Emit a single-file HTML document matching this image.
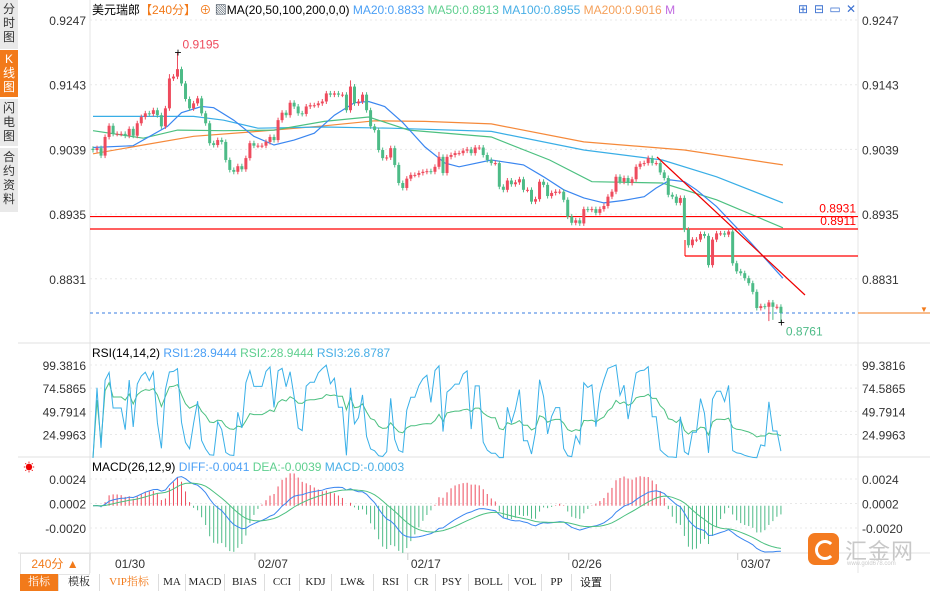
<!DOCTYPE html>
<html><head><meta charset="utf-8">
<style>
body{margin:0;width:930px;height:591px;overflow:hidden;background:#fff;font-family:"Liberation Sans","Noto Sans CJK SC",sans-serif;}
#wrap{position:relative;width:930px;height:591px;}
.side{position:absolute;left:0;width:18px;background:#e9e9e9;color:#333;font-size:12px;line-height:14px;text-align:center;border-bottom:1px solid #fff;}
.tb{position:absolute;top:574px;height:17px;font-size:11px;line-height:17px;text-align:center;border-right:1px solid #ddd;color:#222;font-family:"Liberation Serif","Noto Serif CJK SC",serif;}
</style></head><body><div id="wrap">
<div class="side" style="top:0;height:47px;padding-top:2px">分<br>时<br>图</div>
<div class="side" style="top:50px;height:45px;padding-top:2px;background:#f27a1a;color:#fff">K<br>线<br>图</div>
<div class="side" style="top:99px;height:45px;padding-top:2px">闪<br>电<br>图</div>
<div class="side" style="top:148px;height:62px;padding-top:2px">合<br>约<br>资<br>料</div>
<svg id="svg" width="930" height="591" style="position:absolute;left:0;top:0"></svg>
<div style="position:absolute;left:20px;top:553px;width:68px;height:20px;border:1px solid #e4e4e4;color:#f27a1a;font-size:12px;line-height:20px;text-align:center">240分 ▲</div>
<div class="tb" style="left:20px;width:38px;background:#f27a1a;color:#fff">指标</div>
<div class="tb" style="left:59px;width:40px">模板</div>
<div class="tb" style="left:100px;width:58px;color:#f27a1a">VIP指标</div>
<div class="tb" style="left:159px;width:26px">MA</div>
<div class="tb" style="left:186px;width:38px">MACD</div>
<div class="tb" style="left:225px;width:39px">BIAS</div>
<div class="tb" style="left:265px;width:34px">CCI</div>
<div class="tb" style="left:300px;width:31px">KDJ</div>
<div class="tb" style="left:332px;width:41px">LW&amp;</div>
<div class="tb" style="left:374px;width:33px">RSI</div>
<div class="tb" style="left:408px;width:27px">CR</div>
<div class="tb" style="left:436px;width:32px">PSY</div>
<div class="tb" style="left:469px;width:39px">BOLL</div>
<div class="tb" style="left:509px;width:32px">VOL</div>
<div class="tb" style="left:542px;width:29px">PP</div>
<div class="tb" style="left:572px;width:38px;font-family:'Noto Sans CJK SC',sans-serif">设置</div>
<div style="position:absolute;left:808px;top:533px;width:31px;height:32px;border-radius:7px;background:#f47b20"><div style="position:absolute;left:7px;top:7px;width:14px;height:14px;border:3px solid #fff;border-radius:50%;border-right-color:transparent"></div></div>
<div style="position:absolute;left:845px;top:534px;font-size:22px;color:#c8c8c8;letter-spacing:1px">汇金网</div>
<div style="position:absolute;left:847px;top:561px;font-size:6px;color:#ccc">www.gold678.com</div>
</div>
<script>
const closes=[0.9038,0.9041,0.9029,0.9059,0.9077,0.9064,0.9064,0.9064,0.9061,0.9072,0.9061,0.9081,0.9091,0.9097,0.9096,0.9102,0.9094,0.9076,0.9105,0.9153,0.9156,0.9168,0.9145,0.9120,0.9105,0.9113,0.9121,0.9097,0.9081,0.9049,0.9046,0.9054,0.9051,0.9022,0.9006,0.9003,0.9012,0.9007,0.9025,0.9049,0.9045,0.9045,0.9045,0.9051,0.9059,0.9054,0.9086,0.9098,0.9094,0.9114,0.9108,0.9097,0.9096,0.9108,0.9110,0.9110,0.9113,0.9116,0.9129,0.9127,0.9129,0.9127,0.9127,0.9102,0.9140,0.9113,0.9116,0.9127,0.9102,0.9076,0.9070,0.9038,0.9025,0.9026,0.9041,0.9014,0.8985,0.8977,0.8992,0.8998,0.8998,0.9001,0.9003,0.9004,0.9003,0.9011,0.9027,0.9001,0.9027,0.9030,0.9033,0.9033,0.9037,0.9039,0.9033,0.9042,0.9042,0.9030,0.9022,0.9017,0.9017,0.8979,0.8974,0.8989,0.8983,0.8986,0.8991,0.8974,0.8974,0.8955,0.8959,0.8987,0.8982,0.8964,0.8969,0.8971,0.8971,0.8958,0.8931,0.8921,0.8925,0.8920,0.8943,0.8942,0.8943,0.8937,0.8943,0.8948,0.8963,0.8971,0.8995,0.8987,0.8993,0.8985,0.8991,0.9011,0.9016,0.9017,0.9025,0.9017,0.9017,0.9002,0.8993,0.8966,0.8963,0.8953,0.8961,0.8910,0.8885,0.8894,0.8894,0.8903,0.8900,0.8853,0.8894,0.8904,0.8904,0.8902,0.8907,0.8856,0.8843,0.8840,0.8832,0.8824,0.8810,0.8784,0.8787,0.8786,0.8793,0.8786,0.8786,0.8776];
const firstOpen=0.9040;
const highOverrides={21:0.9195,19:0.9160,64:0.9150,86:0.9035};
const lowOverrides={171:0.8761,169:0.8765,168:0.8763};
const ma20=[[0,0.9042],[10,0.9045],[18.5,0.9076],[22,0.9098],[27,0.9108],[30,0.9106],[35,0.9086],[40,0.9060],[45,0.9046],[50,0.9054],[55,0.9065],[60,0.9094],[65,0.9114],[68.5,0.9116],[72.5,0.9108],[77,0.9082],[82.5,0.9043],[87.5,0.9017],[91,0.9011],[99,0.9022],[102,0.9019],[107,0.9014],[112,0.8995],[117,0.8974],[122,0.8961],[127,0.8953],[132,0.8957],[137,0.8963],[140,0.8977],[143.5,0.8990],[147,0.8987],[150,0.8974],[155,0.8947],[163.5,0.8889],[171.5,0.8832]];
const ma50=[[0,0.9069],[12.5,0.9057],[21,0.9070],[32.5,0.9069],[45,0.9070],[57.5,0.9084],[68.5,0.9091],[78.5,0.9070],[99,0.9059],[113.5,0.9022],[124,0.8987],[141.5,0.8985],[155,0.8958],[171.5,0.8913]];
const ma100=[[0,0.9092],[25,0.9092],[32.5,0.9086],[41,0.9073],[57.5,0.9075],[74,0.9073],[99,0.9068],[122,0.9038],[141.5,0.9022],[155,0.8995],[171.5,0.8953]];
const ma200=[[0,0.9032],[12.5,0.9046],[25,0.9060],[41,0.9068],[57.5,0.9077],[70,0.9085],[82.5,0.9084],[99,0.9080],[122,0.9051],[147,0.9038],[171.5,0.9014]];
const priceTicks=[0.9247,0.9143,0.9039,0.8935,0.8831];
const rsiTicks=[99.3816,74.5865,49.7914,24.9963];
const macdTicks=[0.0024,0.0002,-0.0020];
const dateLabels=["01/30","02/07","02/17","02/26","03/07"];
const dateIdx=[-1,41,79,119,161];
const levelLines=[0.8931,0.8911];

const S=document.getElementById('svg');const NS='http://www.w3.org/2000/svg';
function mk(t,a,p){const e=document.createElementNS(NS,t);for(const k in a)e.setAttribute(k,a[k]);(p||S).appendChild(e);return e;}
const X=i=>93+i*4.023;
const PY=p=>20+(0.9247-p)*6221;
const RY=v=>365+(99.3816-v)*0.935;
const MY=v=>479+(0.0024-v)*11136;
const L=90,R=858;
let e;
e=mk('line',{x1:L,y1:0,x2:L,y2:573,stroke:'#e6e6e6'});


e=mk('line',{x1:R,y1:0,x2:R,y2:573,stroke:'#e6e6e6'});


[343,457,553].forEach(y=>{e=mk('line',{x1:18,y1:y,x2:930,y2:y,stroke:'#e0e0e0'});

});
function txt(x,y,s,fill,size,anchor,name){const t=mk('text',{x:x,y:y,fill:fill,'font-size':size,'text-anchor':anchor||'start','font-family':'Liberation Sans, Noto Sans CJK SC, sans-serif'});t.textContent=s;return t;}
priceTicks.forEach(p=>{const y=PY(p);e=mk('line',{x1:L,y1:y,x2:R,y2:y,stroke:'#e8e8e8','stroke-dasharray':'2,3'});


txt(86,y+5,p.toFixed(4),'#333',12,'end','price-tick-left');txt(862,y+5,p.toFixed(4),'#333',12,'start','price-tick-right');});
rsiTicks.forEach(v=>{const y=RY(v);e=mk('line',{x1:L,y1:y,x2:R,y2:y,stroke:'#e8e8e8','stroke-dasharray':'2,3'});


txt(86,y+5,v.toFixed(4),'#333',12,'end','rsi-tick-left');txt(862,y+5,v.toFixed(4),'#333',12,'start','rsi-tick-right');});
macdTicks.forEach(v=>{const y=MY(v);e=mk('line',{x1:L,y1:y,x2:R,y2:y,stroke:'#e8e8e8','stroke-dasharray':'2,3'});


txt(86,y+5,v.toFixed(4),'#333',12,'end','macd-tick-left');txt(862,y+5,v.toFixed(4),'#333',12,'start','macd-tick-right');});
dateLabels.forEach((d,k)=>{const x=k===0?L:X(dateIdx[k])-3;e=mk('line',{x1:x,y1:553,x2:x,y2:560,stroke:'#ccc'});


txt(k===0?115:x+3,568,d,'#333',12,'start','date-label');});
function maLine(arr,col,name){const d=arr.map((p,k)=>(k?'L':'M')+X(p[0]).toFixed(1)+','+PY(p[1]).toFixed(1)).join(' ');e=mk('path',{d:d,fill:'none',stroke:col,'stroke-width':1.2});

}
maLine(ma200,'#f5893a','ma200-line');maLine(ma100,'#39aee6','ma100-line');maLine(ma50,'#4cc080','ma50-line');maLine(ma20,'#3a86f0','ma20-line');
levelLines.forEach(p=>{e=mk('line',{x1:L,y1:PY(p),x2:R,y2:PY(p),stroke:'#f00','stroke-width':1.2});


txt(856,PY(p)-4,p.toFixed(4),'#f00',12,'end','support-label');});
e=mk('line',{x1:685,y1:256,x2:R,y2:256,stroke:'#f00','stroke-width':1.2});


e=mk('line',{x1:685,y1:240,x2:685,y2:256,stroke:'#f00','stroke-width':1});


e=mk('line',{x1:657,y1:157,x2:805,y2:295,stroke:'#e00','stroke-width':1.2});


e=mk('line',{x1:L,y1:313,x2:R,y2:313,stroke:'#3a7ee0','stroke-dasharray':'3,3'});


e=mk('line',{x1:R,y1:313,x2:930,y2:313,stroke:'#f27a1a'});


txt(924,312,'▼','#f27a1a',8,'middle','last-price-arrow');
let opens=[],highs=[],lows=[];
closes.forEach((c,i)=>{const o=i?closes[i-1]:firstOpen;opens.push(o);
highs.push(highOverrides[i]!==undefined?highOverrides[i]:Math.max(o,c)+0.0004);
lows.push(lowOverrides[i]!==undefined?lowOverrides[i]:Math.min(o,c)-0.0004);});
closes.forEach((c,i)=>{const o=opens[i];const up=c>=o;const col=up?'#ee4b5d':'#4dbb87';const x=X(i);
e=mk('line',{x1:x,y1:PY(highs[i]),x2:x,y2:PY(lows[i]),stroke:col});


const y1=PY(Math.max(o,c)),y2=PY(Math.min(o,c));
e=mk('rect',{x:x-1.5,y:y1,width:3,height:Math.max(1,y2-y1),fill:col});

});
let hi=0,lo=0;highs.forEach((h,i)=>{if(h>highs[hi])hi=i;});lows.forEach((l,i)=>{if(l<lows[lo])lo=i;});
txt(X(hi)-3,PY(highs[hi])+4,'+','#000',12,'start','high-marker');
txt(X(hi)+5,PY(highs[hi])-4,highs[hi].toFixed(4),'#ee4b5d',12,'start','high-label');
txt(X(lo)-3,PY(lows[lo])+4,'+','#000',12,'start','low-marker');
txt(X(lo)+5,PY(lows[lo])+13,lows[lo].toFixed(4),'#4dbb87',12,'start','low-label');
function rsi(n){let up=0,dn=0,out=[];closes.forEach((c,i)=>{const d=i?c-closes[i-1]:c-firstOpen;up=(Math.max(d,0)+(n-1)*up)/n;dn=(Math.abs(d)+(n-1)*dn)/n;out.push(dn?up/dn*100:50);});return out;}
const rsi14=rsi(14),rsi2=rsi(2);
function pline(vals,fy,col,name){const d=vals.map((v,i)=>(i?'L':'M')+X(i).toFixed(1)+','+fy(v).toFixed(1)).join(' ');e=mk('path',{d:d,fill:'none',stroke:col,'stroke-width':1});

}
pline(rsi14,RY,'#4cc080','rsi1-line');pline(rsi2,RY,'#39b0e8','rsi3-line');
let e12=closes[0],e26=closes[0],dea=0,diff=[],deaA=[];
closes.forEach(c=>{e12=e12+(c-e12)*2/13;e26=e26+(c-e26)*2/27;const df=e12-e26;dea=dea+(df-dea)*2/10;diff.push(df);deaA.push(dea);});
diff.forEach((d,i)=>{const h=3*(d-deaA[i]);e=mk('line',{x1:X(i),y1:MY(0),x2:X(i),y2:MY(h),stroke:h>=0?'#ee4b5d':'#4dbb87'});

});
pline(diff,MY,'#3a86f0','diff-line');pline(deaA,MY,'#4cc080','dea-line');
const hdr=mk('text',{x:92,y:14,'font-size':12,'font-family':'Liberation Sans, Noto Sans CJK SC, sans-serif'});


[['美元瑞郎','#000'],['【240分】','#f27a1a'],[' ⊕ ','#f27a1a'],['▧','#123'],['MA(20,50,100,200,0,0) ','#000'],['MA20:0.8833  ','#4a9ff5'],['MA50:0.8913  ','#5fcf8f'],['MA100:0.8955  ','#47aee6'],['MA200:0.9016  ','#f5a05a'],['M','#c06ae0']].forEach(a=>{const s=mk('tspan',{fill:a[1]},hdr);s.textContent=a[0];});
const rh=mk('text',{x:92,y:357,'font-size':12,'font-family':'Liberation Sans, sans-serif'});


[['RSI(14,14,2) ','#000'],['RSI1:28.9444 ','#4a9ff5'],['RSI2:28.9444 ','#5fcf8f'],['RSI3:26.8787','#47aee6']].forEach(a=>{const s=mk('tspan',{fill:a[1]},rh);s.textContent=a[0];});
const mh=mk('text',{x:92,y:471,'font-size':12,'font-family':'Liberation Sans, sans-serif'});


[['MACD(26,12,9) ','#000'],['DIFF:-0.0041 ','#4a9ff5'],['DEA:-0.0039 ','#5fcf8f'],['MACD:-0.0003','#47aee6']].forEach(a=>{const s=mk('tspan',{fill:a[1]},mh);s.textContent=a[0];});
txt(29,471,'☀','#e00',11,'middle','macd-settings-icon');
['⊞','⊟','▭','✕'].forEach((s,k)=>{const t=txt(803+k*16,13,s,'#3a6fd0',12,'middle','toolbar-icon');});
</script></body></html>
